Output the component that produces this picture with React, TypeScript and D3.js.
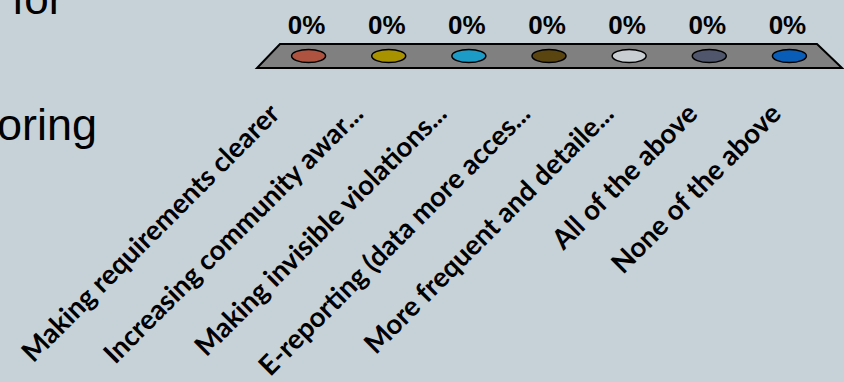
import React from "react";
import * as d3 from "d3";

const categories = [
  "Making requirements clearer",
  "Increasing community awar...",
  "Making invisible violations...",
  "E-reporting (data more acces...",
  "More frequent and detaile...",
  "All of the above",
  "None of the above",
];
const values = [0, 0, 0, 0, 0, 0, 0];
const barColors = ["#AE5340", "#A89200", "#1B9BC6", "#5A4410", "#C9CED3", "#50566B", "#0A5DB6"];

const W = 844;
const H = 382;

export default function App() {
  // floor geometry
  const floorTop = 44;
  const floorBottom = 68;
  const floorTopX: [number, number] = [280, 817];
  const floorBotX: [number, number] = [257, 842];
  const floorMidY = (floorTop + floorBottom) / 2;

  const xBars = d3
    .scaleBand<string>()
    .domain(categories)
    .range([(floorTopX[0] + floorBotX[0]) / 2, (floorTopX[1] + floorBotX[1]) / 2])
    .padding(0);
  const xLabels = d3.scaleBand<string>().domain(categories).range(floorBotX).padding(0);
  const y = d3.scaleLinear().domain([0, 1]).range([floorMidY, floorMidY - 200]);
  const fmt = d3.format(".0%");

  const floorPath = d3.line()([
    [floorTopX[0], floorTop],
    [floorTopX[1], floorTop],
    [floorBotX[1], floorBottom],
    [floorBotX[0], floorBottom],
  ]) + "Z";

  const labelShift = 25;
  const labelY = 108;

  return (
    <svg
      width={W}
      height={H}
      style={{ position: "absolute", left: 0, top: 0, display: "block" }}
    >
      <rect x={0} y={0} width={W} height={H} fill="#C6D1D8" />
      <g fontFamily="'Liberation Sans', Arial, sans-serif" fill="#000">
        <text x={12} y={14} fontSize={44}>for</text>
        <text x={-3} y={140} fontSize={45}>oring</text>
      </g>
      <path d={floorPath} fill="#808080" stroke="#000" strokeWidth={2} />
      {categories.map((c, i) => {
        const cx = xBars(c)! + xBars.bandwidth() / 2;
        const top = y(values[i]);
        return (
          <g key={c}>
            {values[i] > 0 && (
              <rect x={cx - 17} y={top} width={34} height={floorMidY - top} fill={barColors[i]} stroke="#000" />
            )}
            <ellipse cx={cx} cy={top} rx={17} ry={6.5} fill={barColors[i]} stroke="#000" strokeWidth={1.5} />
            <text
              x={cx - 2}
              y={top - 22}
              textAnchor="middle"
              fontFamily="'Liberation Sans', Arial, sans-serif"
              fontWeight="bold"
              fontSize={26}
            >
              {fmt(values[i])}
            </text>
          </g>
        );
      })}
      {categories.map((c) => {
        const ax = xLabels(c)! + xLabels.bandwidth() / 2 - labelShift;
        return (
          <text
            key={"l" + c}
            transform={`translate(${ax},${labelY}) rotate(-45)`}
            textAnchor="end"
            dominantBaseline="central"
            fontFamily="Lato, 'Open Sans', sans-serif"
            fontWeight="bold"
            fontSize={27.5}
          >
            {c}
          </text>
        );
      })}
    </svg>
  );
}
